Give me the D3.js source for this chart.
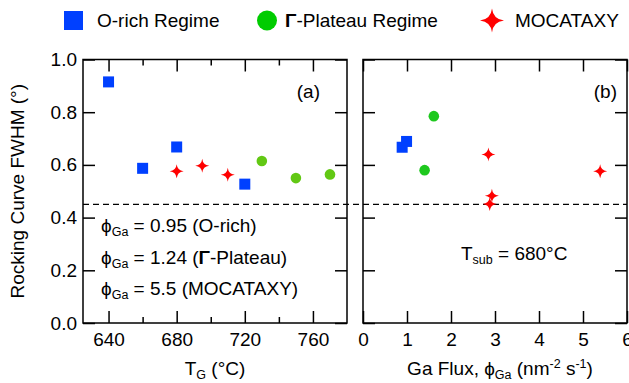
<!DOCTYPE html>
<meta charset="utf-8">
<style>
body { margin: 0; background: #fff; }
text { font-family: "Liberation Sans", Arial, sans-serif; font-size: 19px; fill: #000; }
.tick line, .frame { stroke: #000; stroke-width: 1.5; }
.frame { fill: none; }
</style>
<body>
<svg width="629" height="383"></svg>
<script src="https://d3js.org/d3.v7.min.js"></script>
<script>

// panel (a): growth temperature
var tempORich = [640, 660, 680, 720],
    fwhmORichA = [0.915, 0.587, 0.668, 0.527];
var tempPlateau = [730, 750, 770],
    fwhmPlateauA = [0.615, 0.550, 0.564];
var tempMoca = [680, 695, 710],
    fwhmMocaA = [0.576, 0.597, 0.563];

// panel (b): Ga flux at 680 C
var fluxORich = [0.89, 0.99],
    fwhmORichB = [0.667, 0.689];
var fluxPlateau = [1.61, 1.40],
    fwhmPlateauB = [0.785, 0.580];
var fluxMoca = [2.85, 2.93, 2.88, 5.39],
    fwhmMocaB = [0.639, 0.483, 0.452, 0.576];

var yTicks = [0, 0.2, 0.4, 0.6, 0.8, 1.0],
    tempMajor = [640, 680, 720, 760],
    tempMinor = [660, 700, 740],
    fluxTicks = [0, 1, 2, 3, 4, 5, 6],
    refLine = 0.45;

var legendNames = ["O-rich Regime", "-Plateau Regime", "MOCATAXY"];

var blue = "#0040ff", red = "#ff0000", greenA = "#62c814", greenB = "#1ec81e";

var svg = d3.select("svg"),
    yTop = 59.5, yBottom = 323;

var y = d3.scaleLinear().domain([0, 1]).range([yBottom, yTop]);
var xa = d3.scaleLinear().domain([625, 780]).range([83, 347]);
var xb = d3.scaleLinear().domain([0, 6]).range([363, 627]);

function star(R) {
  var k = 0.1 * R, p = d3.path();
  p.moveTo(0, -R);
  p.quadraticCurveTo(k, -k, R, 0);
  p.quadraticCurveTo(k, k, 0, R);
  p.quadraticCurveTo(-k, k, -R, 0);
  p.quadraticCurveTo(-k, -k, 0, -R);
  p.closePath();
  return p.toString();
}

function noDomain(s) {
  s.select(".domain").remove();
  s.selectAll("text").attr("font-size", null).attr("font-family", null);
}

function frame(x) {
  var g = svg.append("g");
  var r = x.range();
  var major = x === xa ? tempMajor : fluxTicks;
  // inward ticks on all four sides
  g.append("g").attr("transform", "translate(0," + yBottom + ")")
      .call(d3.axisBottom(x).tickValues(major).tickSize(-12).tickPadding(10).tickFormat(d3.format("d")))
      .call(noDomain);
  g.append("g").attr("transform", "translate(0," + yTop + ")")
      .call(d3.axisTop(x).tickValues(major).tickSize(-12).tickFormat(""))
      .call(noDomain);
  if (x === xa) {
    g.append("g").attr("transform", "translate(0," + yBottom + ")")
        .call(d3.axisBottom(x).tickValues(tempMinor).tickSize(-6).tickFormat(""))
        .call(noDomain);
    g.append("g").attr("transform", "translate(0," + yTop + ")")
        .call(d3.axisTop(x).tickValues(tempMinor).tickSize(-6).tickFormat(""))
        .call(noDomain);
  }
  var yl = d3.axisLeft(y).tickValues(yTicks).tickSize(-12).tickPadding(6).tickFormat(d3.format(".1f"));
  if (x !== xa) yl.tickFormat("");
  g.append("g").attr("transform", "translate(" + r[0] + ",0)")
      .call(yl)
      .call(noDomain);
  g.append("g").attr("transform", "translate(" + r[1] + ",0)")
      .call(d3.axisRight(y).tickValues(yTicks).tickSize(-12).tickFormat(""))
      .call(noDomain);
  g.append("rect").attr("class", "frame")
      .attr("x", r[0]).attr("y", yTop)
      .attr("width", r[1] - r[0]).attr("height", yBottom - yTop);
}

frame(xa);
frame(xb);

// reference line across both panels
svg.append("line")
    .attr("x1", xa.range()[0]).attr("x2", xb.range()[1])
    .attr("y1", y(refLine)).attr("y2", y(refLine))
    .attr("stroke", "#000").attr("stroke-width", 1.2).attr("stroke-dasharray", "6,4");

function squares(x, xs, ys) {
  svg.append("g").selectAll("rect").data(xs).enter().append("rect")
      .attr("x", function(d) { return x(d) - 5.5; })
      .attr("y", function(d, i) { return y(ys[i]) - 5.5; })
      .attr("width", 11).attr("height", 11)
      .attr("fill", blue);
}
function circles(x, xs, ys, c) {
  svg.append("g").selectAll("circle").data(xs).enter().append("circle")
      .attr("cx", function(d) { return x(d); })
      .attr("cy", function(d, i) { return y(ys[i]); })
      .attr("r", 5.3).attr("fill", c);
}
function stars(x, xs, ys) {
  svg.append("g").selectAll("path").data(xs).enter().append("path")
      .attr("transform", function(d, i) { return "translate(" + x(d) + "," + y(ys[i]) + ")"; })
      .attr("d", star(7))
      .attr("fill", red);
}

squares(xa, tempORich, fwhmORichA);
circles(xa, tempPlateau, fwhmPlateauA, greenA);
stars(xa, tempMoca, fwhmMocaA);
squares(xb, fluxORich, fwhmORichB);
circles(xb, fluxPlateau, fwhmPlateauB, greenB);
stars(xb, fluxMoca, fwhmMocaB);

// panel tags
svg.append("text").attr("x", 320).attr("y", 98).attr("text-anchor", "end").text("(a)");
svg.append("text").attr("x", 617).attr("y", 98).attr("text-anchor", "end").text("(b)");

// annotations with subscripts
function sub(t, s, rest) {
  t.append("tspan").text(s).style("font-size", "12.5px").attr("dy", 4);
  t.append("tspan").text(rest).attr("dy", -4);
}
var notes = [["ϕ", " = 0.95 (O-rich)"], ["ϕ", " = 1.24 ("], ["ϕ", " = 5.5 (MOCATAXY)"]];
notes.forEach(function(n, i) {
  var t = svg.append("text").attr("x", 101).attr("y", 232 + i * 31.5);
  t.append("tspan").text(n[0]);
  sub(t, "Ga", n[1]);
  if (i === 1) {
    t.append("tspan").text("Γ").style("font-weight", "bold");
    t.append("tspan").text("-Plateau)");
  }
});
var ts = svg.append("text").attr("x", 461).attr("y", 260);
ts.append("tspan").text("T");
sub(ts, "sub", " = 680°C");

// axis titles
var tg = svg.append("text").attr("x", (xa.range()[0] + xa.range()[1]) / 2).attr("y", 375).attr("text-anchor", "middle");
tg.append("tspan").text("T");
sub(tg, "G", " (°C)");

var gf = svg.append("text").attr("x", 500).attr("y", 375).attr("text-anchor", "middle");
gf.append("tspan").text("Ga Flux, ϕ");
sub(gf, "Ga", " (nm");
gf.append("tspan").text("-2").style("font-size", "12.5px").attr("dy", -7);
gf.append("tspan").text(" s").attr("dy", 7);
gf.append("tspan").text("-1").style("font-size", "12.5px").attr("dy", -7);
gf.append("tspan").text(")").attr("dy", 7);

svg.append("text")
    .attr("transform", "translate(24," + (yTop + yBottom) / 2 + ") rotate(-90)")
    .attr("text-anchor", "middle")
    .text("Rocking Curve FWHM (°)");

// legend
var lg = svg.append("g");
lg.append("rect").attr("x", 64).attr("y", 11).attr("width", 19).attr("height", 19).attr("fill", blue);
lg.append("text").attr("x", 97).attr("y", 27).text(legendNames[0]);
lg.append("circle").attr("cx", 267).attr("cy", 20.5).attr("r", 10).attr("fill", "#00cc00");
var lt = lg.append("text").attr("x", 285).attr("y", 27);
lt.append("tspan").text("Γ").style("font-weight", "bold");
lt.append("tspan").text(legendNames[1]);
lg.append("path").attr("transform", "translate(492,20.5)").attr("d", star(12)).attr("fill", red);
lg.append("text").attr("x", 515).attr("y", 27).text(legendNames[2]);

</script>
</body>
